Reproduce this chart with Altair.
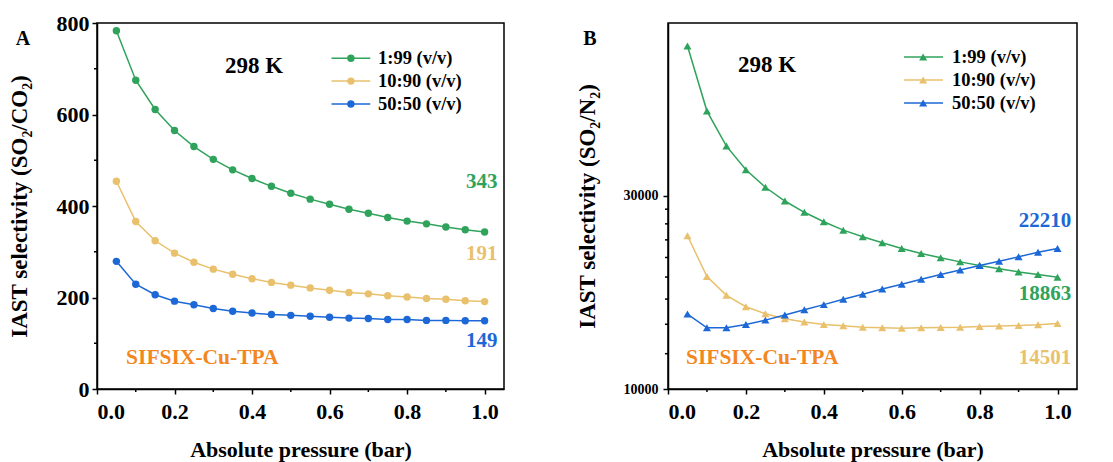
import altair as alt
import pandas as pd

FONT = "Liberation Serif"
GREEN = "#2fa35b"
YELLOW = "#e9c06c"
BLUE = "#1c68d6"
ORANGE = "#f3871f"

series_names = ["1:99 (v/v)", "10:90 (v/v)", "50:50 (v/v)"]
series_colors = [GREEN, YELLOW, BLUE]

pressure = [0.05, 0.10, 0.15, 0.20, 0.25, 0.30, 0.35, 0.40, 0.45, 0.50,
            0.55, 0.60, 0.65, 0.70, 0.75, 0.80, 0.85, 0.90, 0.95, 1.00]

# Panel A: SO2/CO2
a_1_99 = [783, 675, 611, 565, 530, 502, 479, 460, 443, 428,
          415, 404, 393, 384, 375, 367, 361, 354, 348, 343]
a_10_90 = [454, 366, 324, 297, 277, 262, 251, 241, 233, 227,
           221, 216, 211, 208, 204, 201, 198, 196, 193, 191]
a_50_50 = [279, 229, 206, 192, 184, 176, 170, 166, 163, 161,
           159, 157, 155, 154, 152, 152, 150, 150, 149, 149]

# Panel B: SO2/N2
b_1_99 = [70200, 48500, 39750, 34740, 31460, 29100, 27290, 25870, 24660, 23750,
          22950, 22220, 21600, 21070, 20590, 20170, 19790, 19450, 19160, 18863]
b_10_90 = [23880, 18940, 17030, 15960, 15340, 14900, 14630, 14430, 14320, 14210,
           14160, 14130, 14160, 14190, 14210, 14270, 14300, 14350, 14400, 14501]
b_50_50 = [15310, 14160, 14160, 14430, 14790, 15220, 15690, 16150, 16650, 17130,
           17650, 18130, 18650, 19160, 19670, 20170, 20670, 21190, 21760, 22210]

x_major = [0.0, 0.2, 0.4, 0.6, 0.8, 1.0]
x_minor = [0.1, 0.3, 0.5, 0.7, 0.9]
a_y_major = [0, 200, 400, 600, 800]
a_y_minor = [100, 300, 500, 700]
b_y_major = [10000, 30000]
b_y_minor = [12222, 14444, 16667, 18889, 21111, 23333, 25556, 27778]

W_A, W_B, H = 407, 409, 366


def long_df(cols):
    rows = []
    for name, vals in zip(series_names, cols):
        for p, v in zip(pressure, vals):
            rows.append({"p": p, "sel": v, "series": name})
    return pd.DataFrame(rows)


color = alt.Color("series:N", scale=alt.Scale(domain=series_names, range=series_colors), legend=None)

axis_common = dict(
    labelFont=FONT, labelFontWeight="bold", labelColor="black",
    titleFont=FONT, titleFontWeight="bold", titleColor="black",
    domainColor="black", domainWidth=1.5, tickColor="black", tickWidth=1.5,
    tickSize=5, grid=False,
)


def panel(df, yscale, y_values, y_minor, ytitle, ylabelsize, ytitlepad, ylabelpad,
          shape, msize, legend_x, legend_y, ann, end_labels, panel_letter, letter_x, width, yfmt):
    xscale = alt.Scale(domain=[0, 1.05], nice=False, zero=False)
    xaxis = alt.Axis(values=x_major, format=".1f", labelFontSize=22, labelPadding=7,
                     titlePadding=17, titleFontSize=22, title="Absolute pressure (bar)", **axis_common)
    yaxis = alt.Axis(values=y_values, format=yfmt, labelFontSize=ylabelsize, labelPadding=ylabelpad,
                     titlePadding=ytitlepad, titleFontSize=23, title=ytitle, **axis_common)

    def X(f):
        return alt.X(f, scale=xscale, axis=xaxis)

    def Y(f):
        return alt.Y(f, scale=yscale, axis=yaxis)

    lines = alt.Chart(df).mark_line(strokeWidth=1.5).encode(x=X("p:Q"), y=Y("sel:Q"), color=color)
    points = alt.Chart(df).mark_point(filled=True, size=msize, shape=shape, opacity=1).encode(
        x=X("p:Q"), y=Y("sel:Q"), color=color)

    # minor ticks
    yminor = alt.Chart(pd.DataFrame({"sel": y_minor})).mark_rule(color="black", strokeWidth=1.5).encode(
        y=Y("sel:Q"), x=alt.value(0), x2=alt.value(-3))
    xminor = alt.Chart(pd.DataFrame({"p": x_minor})).mark_rule(color="black", strokeWidth=1.5).encode(
        x=X("p:Q"), y=alt.value(H), y2=alt.value(H + 3))

    # custom legend
    leg = pd.DataFrame({"series": series_names, "sel": legend_y,
                        "p": [legend_x[0]] * 3, "p2": [legend_x[2]] * 3,
                        "pm": [legend_x[1]] * 3, "pt": [legend_x[3]] * 3})
    leg_rule = alt.Chart(leg).mark_rule(strokeWidth=1.5).encode(
        x=X("p:Q"), x2="p2:Q", y=Y("sel:Q"), color=color)
    leg_pt = alt.Chart(leg).mark_point(filled=True, size=msize, shape=shape, opacity=1).encode(
        x=X("pm:Q"), y=Y("sel:Q"), color=color)
    leg_txt = alt.Chart(leg).mark_text(align="left", baseline="middle", font=FONT, fontWeight="bold",
                                       fontSize=18.5, color="black").encode(
        x=X("pt:Q"), y=Y("sel:Q"), text="series:N")

    layers = [lines, points, yminor, xminor, leg_rule, leg_pt, leg_txt]
    for (txt, px, py, col, size, align) in ann:
        d = pd.DataFrame({"p": [px], "sel": [py], "t": [txt]})
        layers.append(alt.Chart(d).mark_text(align=align, baseline="middle", font=FONT, fontWeight="bold",
                                             fontSize=size, color=col).encode(
            x=X("p:Q"), y=Y("sel:Q"), text="t:N"))
    for (txt, px, py, col) in end_labels:
        d = pd.DataFrame({"p": [px], "sel": [py], "t": [txt]})
        layers.append(alt.Chart(d).mark_text(align="right", baseline="middle", font=FONT, fontWeight="bold",
                                             fontSize=21, color=col).encode(
            x=X("p:Q"), y=Y("sel:Q"), text="t:N"))
    letter = alt.Chart(pd.DataFrame({"t": [panel_letter]})).mark_text(
        align="center", baseline="middle", font=FONT, fontWeight="bold", fontSize=20, color="black").encode(
        x=alt.value(letter_x), y=alt.value(16), text="t:N")
    layers.append(letter)
    return alt.layer(*layers).properties(width=width, height=H)


dfA = long_df([a_1_99, a_10_90, a_50_50])
dfB = long_df([b_1_99, b_10_90, b_50_50])

chartA = panel(
    dfA, alt.Scale(domain=[0, 800], nice=False), a_y_major, a_y_minor,
    "IAST selectivity (SO₂/CO₂)", 22, 25, 3, "circle", 55,
    [0.605, 0.655, 0.705, 0.725], [723, 673, 623],
    [("298 K", 0.405, 706, "black", 23, "center"),
     ("SIFSIX-Cu-TPA", 0.075, 68, ORANGE, 21.5, "left")],
    [("343", 1.033, 452, GREEN), ("191", 1.033, 295, YELLOW), ("149", 1.033, 105, BLUE)],
    "A", -74, W_A, "d")

chartB = panel(
    dfB, alt.Scale(type="log", domain=[10000, 80000], nice=False), b_y_major, b_y_minor,
    "IAST selectivity (SO₂/N₂)", 14, 24, 5, "triangle-up", 65,
    [0.606, 0.655, 0.706, 0.729], [65970, 57860, 50750],
    [("298 K", 0.254, 63030, "black", 23, "center"),
     ("SIFSIX-Cu-TPA", 0.046, 11930, ORANGE, 21.5, "left")],
    [("22210", 1.035, 25900, BLUE), ("18863", 1.035, 17180, GREEN), ("14501", 1.035, 11930, YELLOW)],
    "B", -78, W_B, "d")

chart = alt.hconcat(chartA, chartB, spacing=70).properties(
    padding={"left": 7, "top": 11, "right": 5, "bottom": 5},
    background="white",
).configure_view(stroke="black", strokeWidth=1.5)

chart.save("out.html", embed_options={"renderer": "svg", "actions": False})
